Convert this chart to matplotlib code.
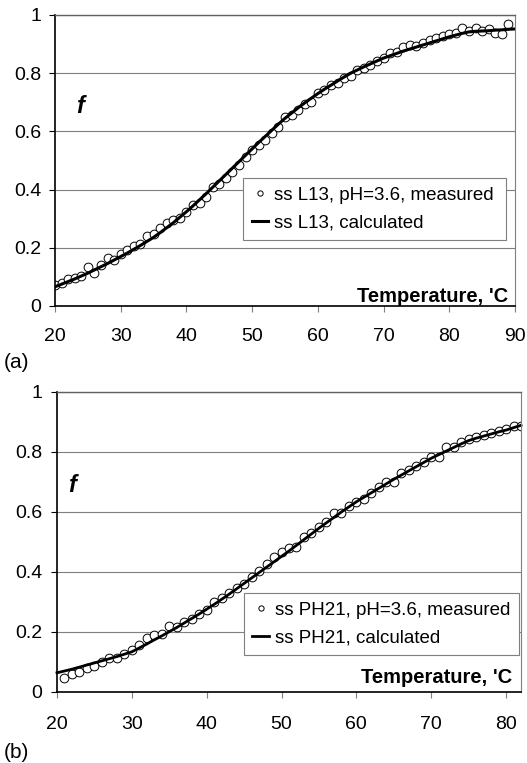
import numpy as np
import matplotlib.pyplot as plt

plt.rcParams['font.family'] = ['Liberation Sans', 'DejaVu Sans']

# ---- panel (a): ss L13 ----
temp_a_meas = list(range(20, 90))
f_a_meas = [0.072, 0.078, 0.092, 0.097, 0.104, 0.133, 0.112, 0.141, 0.164, 0.158,
            0.178, 0.192, 0.206, 0.213, 0.240, 0.246, 0.269, 0.284, 0.295, 0.301,
            0.324, 0.347, 0.353, 0.376, 0.410, 0.420, 0.440, 0.460, 0.485, 0.512,
            0.536, 0.553, 0.570, 0.593, 0.616, 0.648, 0.656, 0.674, 0.694, 0.702,
            0.733, 0.742, 0.759, 0.767, 0.782, 0.790, 0.811, 0.817, 0.828, 0.843,
            0.851, 0.871, 0.874, 0.889, 0.897, 0.893, 0.903, 0.914, 0.920, 0.928,
            0.935, 0.939, 0.954, 0.946, 0.957, 0.946, 0.951, 0.939, 0.935, 0.969]
temp_a_calc = list(range(20, 91))
f_a_calc = [0.066, 0.075, 0.084, 0.093, 0.103, 0.113, 0.124, 0.135, 0.146, 0.158,
            0.170, 0.182, 0.195, 0.208, 0.222, 0.236, 0.252, 0.269, 0.286, 0.305,
            0.324, 0.344, 0.365, 0.386, 0.408, 0.430, 0.452, 0.474, 0.496, 0.518,
            0.540, 0.562, 0.583, 0.604, 0.625, 0.645, 0.663, 0.681, 0.698, 0.714,
            0.730, 0.745, 0.759, 0.773, 0.787, 0.800, 0.811, 0.822, 0.832, 0.842,
            0.852, 0.860, 0.868, 0.876, 0.883, 0.890, 0.897, 0.904, 0.911, 0.918,
            0.925, 0.931, 0.937, 0.942, 0.944, 0.945, 0.946, 0.948, 0.949, 0.951,
            0.952]

# ---- panel (b): ss PH21 ----
temp_b_meas = list(range(21, 83))
f_b_meas = [0.046, 0.060, 0.068, 0.079, 0.088, 0.101, 0.114, 0.112, 0.127, 0.140,
            0.157, 0.179, 0.190, 0.193, 0.220, 0.216, 0.234, 0.245, 0.260, 0.273,
            0.301, 0.312, 0.331, 0.346, 0.360, 0.382, 0.405, 0.428, 0.450, 0.468,
            0.479, 0.484, 0.516, 0.531, 0.551, 0.568, 0.598, 0.598, 0.620, 0.634,
            0.642, 0.664, 0.682, 0.701, 0.701, 0.729, 0.740, 0.753, 0.768, 0.782,
            0.784, 0.818, 0.818, 0.834, 0.842, 0.849, 0.857, 0.862, 0.871, 0.876,
            0.887, 0.887]
temp_b_calc = list(range(20, 83))
f_b_calc = [0.064, 0.070, 0.076, 0.083, 0.090, 0.097, 0.104, 0.111, 0.118, 0.126,
            0.134, 0.147, 0.160, 0.174, 0.187, 0.201, 0.215, 0.230, 0.245, 0.260,
            0.276, 0.292, 0.309, 0.326, 0.344, 0.362, 0.380, 0.398, 0.416, 0.434,
            0.452, 0.470, 0.489, 0.508, 0.527, 0.546, 0.564, 0.582, 0.600, 0.617,
            0.634, 0.649, 0.664, 0.679, 0.694, 0.709, 0.723, 0.737, 0.751, 0.765,
            0.779, 0.791, 0.803, 0.815, 0.827, 0.838, 0.846, 0.853, 0.860, 0.867,
            0.873, 0.881, 0.889]

labelsize = 14
grey = '#7f7f7f'

fig = plt.figure(figsize=(5.27, 7.63), dpi=100)
ax1 = fig.add_axes([55/527, 1 - 306/763, 460/527, 291/763])
ax2 = fig.add_axes([57/527, 1 - 692/763, 464/527, 300/763])


def style(ax, xmax, xpad, ypad):
    ax.set_xlim(20, xmax)
    ax.set_ylim(0, 1)
    ax.set_yticks(np.arange(0, 1.01, 0.2))
    ax.set_yticklabels(['0', '0.2', '0.4', '0.6', '0.8', '1'])
    ax.set_xticks(np.arange(20, xmax + 0.1, 10))
    ax.yaxis.grid(True, color=grey, lw=0.8)
    ax.set_axisbelow(True)
    for s in ['left', 'bottom']:
        ax.spines[s].set_color('black')
        ax.spines[s].set_linewidth(1.2)
    ax.spines['top'].set_color('#606060')
    ax.spines['top'].set_linewidth(1.0)
    ax.spines['right'].set_color(grey)
    ax.spines['right'].set_linewidth(0.8)
    ax.tick_params(axis='x', direction='out', length=4.5, width=0.8, color=grey,
                   labelsize=labelsize, pad=xpad)
    ax.tick_params(axis='y', direction='out', length=4.5, width=0.8, color='black',
                   labelsize=labelsize, pad=ypad)


style(ax1, 90, 11, 5.5)
style(ax2, 82, 12.5, 6.2)

ax1.plot(temp_a_meas, f_a_meas, 'o', ms=6.3, mfc='white', mec='black', mew=0.7,
         label='ss L13, pH=3.6, measured')
ax1.plot(temp_a_calc, f_a_calc, '-', color='black', lw=2.2,
         label='ss L13, calculated')

ax2.plot(temp_b_meas, f_b_meas, 'o', ms=6.3, mfc='white', mec='black', mew=0.7,
         label='ss PH21, pH=3.6, measured')
ax2.plot(temp_b_calc, f_b_calc, '-', color='black', lw=2.0,
         label='ss PH21, calculated', clip_on=False)

leg_kw = dict(loc='upper left', mode='expand', fancybox=False, framealpha=1,
              edgecolor=grey, fontsize=13.5, handlelength=0.9, handletextpad=0.3,
              borderpad=0.45, labelspacing=0.6, borderaxespad=0, markerscale=0.6)
l1 = ax1.legend(bbox_to_anchor=(0.409, 0.44, 0.571, 0), **leg_kw)
l2 = ax2.legend(bbox_to_anchor=(0.403, 0.33, 0.593, 0), **leg_kw)
for l in (l1, l2):
    l.get_frame().set_linewidth(0.8)

ax1.text(0.985, 0.015, "Temperature, 'C", transform=ax1.transAxes, ha='right',
         va='baseline', fontsize=14.5, fontweight='bold')
ax2.text(0.98, 0.031, "Temperature, 'C", transform=ax2.transAxes, ha='right',
         va='baseline', fontsize=14.5, fontweight='bold')

ax1.text(23.8, 0.684, 'f', fontsize=17, fontweight='bold', fontstyle='italic',
         ha='center', va='center')
ax2.text(22.0, 0.69, 'f', fontsize=17, fontweight='bold', fontstyle='italic',
         ha='center', va='center')

fig.text(0.008, 1 - 362/763, '(a)', fontsize=15, ha='left', va='center')
fig.text(0.008, 1 - 753/763, '(b)', fontsize=15, ha='left', va='center')

fig.savefig('out.png', dpi=100)
